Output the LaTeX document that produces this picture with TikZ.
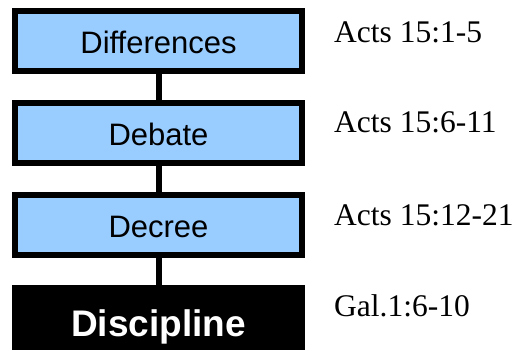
\documentclass[tikz,border=0pt]{standalone}
\usepackage{fontspec}
\setmainfont{Liberation Serif}
\newfontfamily\boxfont{Liberation Sans}
\definecolor{stageblue}{RGB}{153,204,255}
\tikzset{
  stage/.style={draw=black, line width=6pt, fill=stageblue, minimum width=287pt,
    minimum height=60pt, inner sep=0pt, text height=25pt, text depth=0pt,
    font=\boxfont\fontsize{31}{36}\selectfont},
  final/.style={fill=black, text=white, minimum width=293pt, minimum height=65pt,
    inner sep=0pt, text height=39pt, text depth=0pt,
    font=\boxfont\bfseries\fontsize{37}{42}\selectfont},
  link/.style={line width=6pt},
  ref/.style={anchor=base west, inner sep=0pt, font=\fontsize{31.5}{36}\selectfont}
}
\begin{document}
\begin{tikzpicture}[x=1pt,y=-1pt]
\useasboundingbox (0,0) rectangle (514,352);
% Stages:
\node (diff) [stage] at (158.5,41.5) {Differences};
\node (deb) [stage] at (158.5,133.5) {Debate};
\node (dec) [stage] at (158.5,225.5) {Decree};
\node (disc) [final] at (158.5,317.5) {Discipline};
\draw[link] (diff) -- (deb);
\draw[link] (deb) -- (dec);
\draw[link] (dec) -- (disc);
% References:
\node (rdiff) [ref] at (334,43) {Acts 15:1-5};
\node (rdeb) [ref] at (334,133) {Acts 15:6-11};
\node (rdec) [ref] at (334,226) {Acts 15:12-21};
\node (rdisc) [ref] at (334,317) {Gal.1:6-10};
\end{tikzpicture}
\end{document}
